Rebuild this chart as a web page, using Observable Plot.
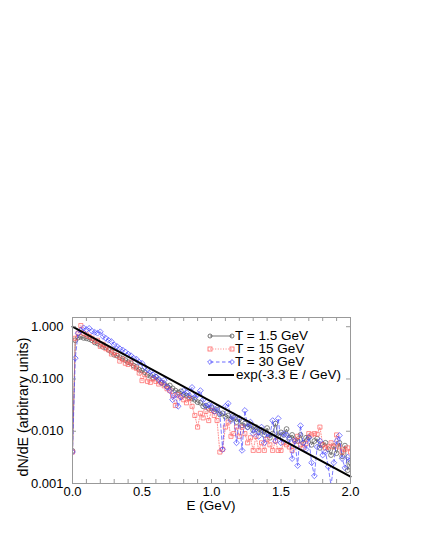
<!DOCTYPE html>
<html><head><meta charset="utf-8">
<script src="https://cdn.jsdelivr.net/npm/d3@7"></script>
<script src="https://cdn.jsdelivr.net/npm/@observablehq/plot@0.6"></script>
<style>
body{margin:0;background:#fff;font-family:"Liberation Sans",Arial,sans-serif;}
#wrap{position:relative;width:422px;height:546px;}
.lab{position:absolute;white-space:nowrap;color:#000;line-height:1;}
.row{position:absolute;height:12px;line-height:12px;font-size:13.5px;white-space:nowrap;}
.row svg{position:absolute;left:0;top:-1px;}
</style></head><body>
<div id="wrap"><div id="chart"></div></div>
<script>
const energy = [0,0.02,0.04,0.06,0.08,0.1,0.12,0.14,0.16,0.18,
 0.2,0.22,0.24,0.26,0.28,0.3,0.32,0.34,0.36,0.38,
 0.4,0.42,0.44,0.46,0.48,0.5,0.52,0.54,0.56,0.58,
 0.6,0.62,0.64,0.66,0.68,0.7,0.72,0.74,0.76,0.78,
 0.8,0.82,0.84,0.86,0.88,0.9,0.92,0.94,0.96,0.98,
 1.0,1.02,1.04,1.06,1.08,1.1,1.12,1.14,1.16,1.18,
 1.2,1.22,1.24,1.26,1.28,1.3,1.32,1.34,1.36,1.38,
 1.4,1.42,1.44,1.46,1.48,1.5,1.52,1.54,1.56,1.58,
 1.6,1.62,1.64,1.66,1.68,1.7,1.72,1.74,1.76,1.78,
 1.8,1.82,1.84,1.86,1.88,1.9,1.92,1.94,1.96,1.98,
 2.0];

const seriesT1_5 = [0.0042,0.55,0.62,0.64,0.61,0.60,0.58,0.55,0.50,0.48,
 0.45,0.41,0.40,0.36,0.33,0.29,0.28,0.26,0.245,0.23,
 0.21,0.20,0.18,0.17,0.15,0.145,0.135,0.12,0.115,0.105,
 0.11,0.095,0.085,0.08,0.072,0.075,0.066,0.06,0.055,0.058,
 0.05,0.048,0.044,0.042,0.04,0.036,0.035,0.03,0.031,0.027,
 0.028,0.024,0.026,0.021,0.022,0.019,0.02,0.017,0.018,0.015,
 0.017,0.013,0.014,0.012,0.013,0.0105,0.012,0.0095,0.0105,0.0085,
 0.0115,0.0075,0.009,0.014,0.008,0.0095,0.0085,0.011,0.0075,0.0085,
 0.007,0.0065,0.0085,0.006,0.0075,0.0077,0.0055,0.0065,0.0072,0.0048,
 0.0055,0.006,0.0045,0.0035,0.0052,0.0038,0.006,0.0033,0.0053,0.0018,
 0.0025];

const seriesT15 = [0.004,0.6,0.75,1.05,0.75,0.7,0.65,0.6,0.52,0.55,
 0.42,0.46,0.38,0.36,0.30,0.32,0.28,0.22,0.24,0.20,
 0.19,0.21,0.17,0.16,0.13,0.093,0.12,0.09,0.086,0.10,
 0.09,0.08,0.085,0.074,0.065,0.06,0.048,0.031,0.05,0.045,
 0.04,0.035,0.042,0.03,0.02,0.012,0.022,0.018,0.024,0.016,
 0.025,0.02,0.016,0.004,0.0045,0.012,0.015,0.008,0.009,0.012,
 0.008,0.012,0.009,0.006,0.0075,0.0043,0.008,0.0043,0.006,0.0043,
 0.007,0.0055,0.0043,0.0065,0.0043,0.0043,0.006,0.0055,0.005,0.0043,
 0.0065,0.008,0.0055,0.0048,0.0058,0.009,0.0085,0.009,0.0088,0.012,
 0.0055,0.0048,0.005,0.006,0.005,0.0085,0.005,0.004,0.0045,0.0048,
 0.004];

const seriesT30 = [0.004,0.25,0.75,0.85,0.95,0.88,0.93,0.82,0.78,0.75,
 0.80,0.65,0.60,0.55,0.52,0.45,0.42,0.38,0.36,0.33,
 0.30,0.28,0.25,0.24,0.21,0.20,0.17,0.15,0.14,0.12,
 0.11,0.10,0.085,0.095,0.07,0.06,0.04,0.05,0.03,0.045,
 0.06,0.055,0.048,0.069,0.045,0.05,0.06,0.04,0.03,0.032,
 0.03,0.024,0.028,0.022,0.0045,0.03,0.034,0.016,0.02,0.006,
 0.018,0.0043,0.025,0.012,0.015,0.009,0.011,0.008,0.012,0.006,
 0.009,0.0085,0.016,0.0065,0.0176,0.006,0.009,0.0085,0.007,0.003,
 0.0065,0.0022,0.0128,0.006,0.0045,0.0075,0.0025,0.0014,0.005,0.0065,
 0.0035,0.004,0.0021,0.0009,0.0025,0.0065,0.0083,0.003,0.002,0.0032,
 0.0028];

// exp(-3.3 E / GeV): a straight line on the log axis, given by its two end points
const fitE = [0, 2];
const fitV = [1.0, 0.00136];

const seriesNames = ["T = 1.5 GeV", "T = 15 GeV", "T = 30 GeV"];
const fitName = "exp(-3.3 E / GeV)";
const xTickMinor = [0,0.1,0.2,0.3,0.4,0.5,0.6,0.7,0.8,0.9,1.0,1.1,1.2,1.3,1.4,1.5,1.6,1.7,1.8,1.9,2.0];
const xTickLabels = [0, 0.5, 1.0, 1.5, 2.0];
const yTicks = [1, 0.1, 0.01, 0.001];
const xLabel = "E (GeV)";
const yLabel = "dN/dE (arbitrary units)";

const styles = [
  {stroke: "#505050", dash: null, symbol: "circle", r: 2.4},
  {stroke: "#ff6060", dash: "1,1.6", symbol: "square", r: 2.3},
  {stroke: "#4848ff", dash: "3.5,2.5", symbol: "diamond2", r: 2.6}
];
const allSeries = [seriesT1_5, seriesT15, seriesT30];
const tables = allSeries.map(vals => energy.map((e, i) => ({E: e, v: vals[i]})));
const fitTable = fitE.map((e, i) => ({E: e, v: fitV[i]}));

const yMin = 0.001, yMax = 1.5;
const frameColor = "#999";

const marks = [];
tables.forEach((t, k) => {
  const s = styles[k];
  marks.push(Plot.line(t, {x: "E", y: "v", stroke: s.stroke, strokeWidth: 0.7, strokeDasharray: s.dash, clip: true}));
  marks.push(Plot.dot(t, {x: "E", y: "v", symbol: s.symbol, r: s.r, stroke: s.stroke, fill: "none", strokeWidth: 0.7, clip: true}));
});
marks.push(Plot.line(fitTable, {x: "E", y: "v", stroke: "#000", strokeWidth: 2}));
marks.push(Plot.frame({stroke: frameColor}));
marks.push(Plot.ruleX(xTickMinor, {x: d => d, y1: yMin, y2: yMin, insetBottom: 4, stroke: frameColor}));
marks.push(Plot.ruleX(xTickMinor, {x: d => d, y1: yMax, y2: yMax, insetTop: 4, stroke: frameColor}));
marks.push(Plot.ruleY(yTicks, {y: d => d, x1: 0, x2: 0, insetLeft: 4, stroke: frameColor}));
marks.push(Plot.ruleY(yTicks, {y: d => d, x1: 2, x2: 2, insetRight: 4, stroke: frameColor}));
marks.push(Plot.axisX(xTickLabels, {tickSize: 0, tickPadding: 3, tickFormat: d3.format(".1f"), label: null, fontSize: 13}));
marks.push(Plot.axisY(yTicks, {tickSize: 0, tickPadding: 9, tickFormat: d3.format(".3f"), label: null, fontSize: 13}));

const chart = Plot.plot({
  width: 422, height: 546,
  marginTop: 317, marginBottom: 63, marginLeft: 72, marginRight: 72,
  x: {domain: [0, 2]},
  y: {type: "log", domain: [yMin, yMax]},
  style: {fontFamily: "'Liberation Sans', Arial, sans-serif", color: "#000", background: "transparent", overflow: "visible"},
  marks
});
const wrap = document.getElementById("wrap");
document.getElementById("chart").appendChild(chart);

// axis titles
const xl = document.createElement("div");
xl.className = "lab"; xl.textContent = xLabel;
xl.style.cssText += "left:211px;top:505.5px;font-size:13.5px;transform:translate(-50%,-50%);";
wrap.appendChild(xl);
const yl = document.createElement("div");
yl.className = "lab"; yl.textContent = yLabel;
yl.style.cssText += "left:23px;top:407px;font-size:14.2px;transform:translate(-50%,-50%) rotate(-90deg);";
wrap.appendChild(yl);

// legend
const rowsY = [336, 349, 362, 375];
const legendItems = seriesNames.map((n, k) => ({name: n, style: styles[k]}));
legendItems.forEach((it, k) => {
  const row = document.createElement("div");
  row.className = "row";
  row.style.left = "206px"; row.style.top = (rowsY[k] - 6) + "px";
  const s = it.style;
  const sym = s.symbol === "circle" ? `<circle cx="CX" cy="7" r="2" fill="none" stroke="${s.stroke}" stroke-width="0.8"/>`
    : s.symbol === "square" ? `<rect x="CXm" y="5" width="4" height="4" fill="none" stroke="${s.stroke}" stroke-width="0.8"/>`
    : `<path d="M CX 4.6 L CXp 7 L CX 9.4 L CXm2 7 Z" fill="none" stroke="${s.stroke}" stroke-width="0.8"/>`;
  const mk = cx => sym.replace(/CXm2/g, cx - 2.4).replace(/CXp/g, cx + 2.4).replace(/CXm/g, cx - 2).replace(/CX/g, cx);
  row.innerHTML = `<svg width="30" height="14"><line x1="4" y1="7" x2="26" y2="7" stroke="${s.stroke}" stroke-width="0.8" ${s.dash ? `stroke-dasharray="${s.dash}"` : ""}/>${mk(4)}${mk(26)}</svg><span style="position:absolute;left:29px;top:0;">${it.name}</span>`;
  wrap.appendChild(row);
});
const frow = document.createElement("div");
frow.className = "row";
frow.style.left = "206px"; frow.style.top = (rowsY[3] - 6) + "px";
frow.innerHTML = `<svg width="30" height="14"><line x1="2" y1="7" x2="28" y2="7" stroke="#000" stroke-width="2"/></svg><span style="position:absolute;left:30px;top:0;">${fitName}</span>`;
wrap.appendChild(frow);
</script>
</body></html>
